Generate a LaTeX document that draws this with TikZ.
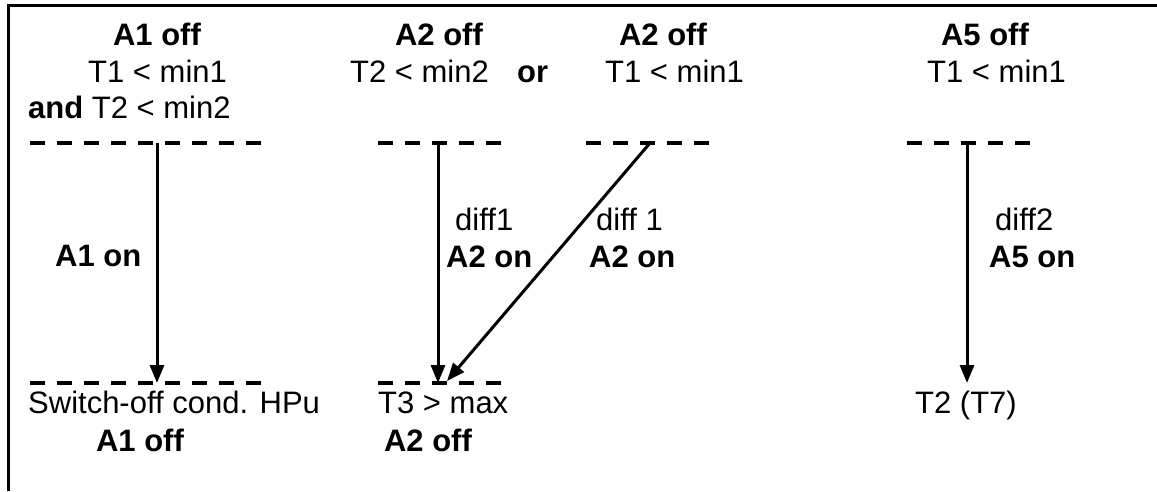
\documentclass[tikz,border=0pt]{standalone}
\usepackage{fontspec}
\setmainfont{Liberation Sans}
\usetikzlibrary{arrows.meta}
\begin{document}
\begin{tikzpicture}[x=1pt,y=-1pt,
  txt/.style={inner sep=0pt,font=\fontsize{31}{36}\selectfont},
  btxt/.style={txt,font=\fontsize{31}{36}\selectfont\bfseries},
  level/.style={line width=3.5pt,dash pattern=on 15pt off 12pt},
  conn/.style={line width=3pt,-{Triangle[length=18pt,width=14pt]}},
  frame/.style={line width=3pt}]
\useasboundingbox (0,0) rectangle (1157,491);
\draw[frame] (8,491) -- (8,5) -- (1157,5);
% column 1
\node[btxt,anchor=base] (c1h) at (157,45) {A1 off};
\node[txt,anchor=base west] (c1a) at (88,82) {T1 < min1};
\node[txt,anchor=base west] (c1b) at (28,118) {\textbf{and} T2 < min2};
\coordinate (l1a) at (30,143); \coordinate (l1b) at (270,143);
\coordinate (l1c) at (30,383); \coordinate (l1d) at (270,383);
\draw[level] (l1a) -- (l1b);
\draw[level] (l1c) -- (l1d);
\coordinate (s1) at (157,143); \coordinate (e1) at (157,383);
\draw[conn] (s1) -- (e1);
\node[btxt,anchor=base west] (c1on) at (55,266) {A1 on};
\node[txt,anchor=base west] (c1s) at (28,413) {Switch-off cond. HPu};
\node[btxt,anchor=base] (c1off) at (140,451) {A1 off};
% column 2
\node[btxt,anchor=base] (c2h) at (439,45) {A2 off};
\node[txt,anchor=base east] (c2a) at (489,82) {T2 < min2};
\node[btxt,anchor=base west] (c2or) at (517,82) {or};
\coordinate (l2a) at (378,143); \coordinate (l2b) at (505,143);
\coordinate (l2c) at (378,383); \coordinate (l2d) at (505,383);
\draw[level] (l2a) -- (l2b);
\draw[level] (l2c) -- (l2d);
\coordinate (s2) at (438,143); \coordinate (e2) at (438,383);
\draw[conn] (s2) -- (e2);
\node[txt,anchor=base west] (c2d) at (455,230) {diff1};
\node[btxt,anchor=base west] (c2on) at (446,267) {A2 on};
\node[txt,anchor=base west] (c2t) at (378,413) {T3 > max};
\node[btxt,anchor=base] (c2off) at (428,451) {A2 off};
% column 3
\node[btxt,anchor=base] (c3h) at (663,45) {A2 off};
\node[txt,anchor=base west] (c3a) at (605,82) {T1 < min1};
\coordinate (l3a) at (586,143); \coordinate (l3b) at (713,143);
\draw[level] (l3a) -- (l3b);
\coordinate (s3) at (650,143); \coordinate (e3) at (447,381);
\draw[conn] (s3) -- (e3);
\node[txt,anchor=base west] (c3d) at (596,230) {diff 1};
\node[btxt,anchor=base west] (c3on) at (589,267) {A2 on};
% column 4
\node[btxt,anchor=base] (c4h) at (985,45) {A5 off};
\node[txt,anchor=base west] (c4a) at (927,82) {T1 < min1};
\coordinate (l4a) at (907,143); \coordinate (l4b) at (1033,143);
\draw[level] (l4a) -- (l4b);
\coordinate (s4) at (967,143); \coordinate (e4) at (967,383);
\draw[conn] (s4) -- (e4);
\node[txt,anchor=base west] (c4d) at (995,230) {diff2};
\node[btxt,anchor=base west] (c4on) at (989,267) {A5 on};
\node[txt,anchor=base west] (c4t) at (915,413) {T2 (T7)};
\end{tikzpicture}
\end{document}
